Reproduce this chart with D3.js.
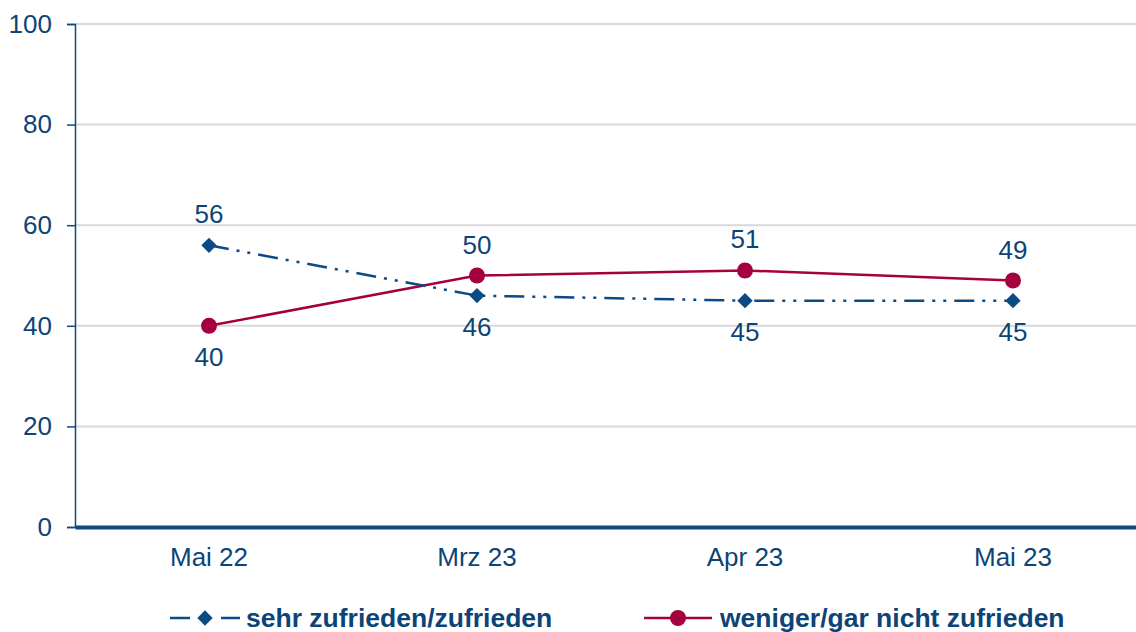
<!DOCTYPE html>
<html><head><meta charset="utf-8">
<script src="https://cdn.jsdelivr.net/npm/d3@7"></script>
<style>body{margin:0;background:#fff}svg{display:block}text{font-family:"Liberation Sans",Arial,sans-serif}</style>
</head><body><svg id="c" width="1136" height="632"></svg>
<script>
const categories = ["Mai 22","Mrz 23","Apr 23","Mai 23"];
const seriesNames = ["sehr zufrieden/zufrieden","weniger/gar nicht zufrieden"];
const zufrieden = [56,46,45,45];
const nichtZufrieden = [40,50,51,49];
const yTicks = [0,20,40,60,80,100];

const blue = "#0a4a85", red = "#a5003f", txt = "#0d4477";
const FS = 26;
const svg = d3.select("#c");
const x = d3.scaleBand().domain(categories).range([75,1147]);
const y = d3.scaleLinear().domain([0,100]).range([527,24]);
const cx = d => x(d)+x.bandwidth()/2;

// grid
svg.append("g").selectAll("line").data(yTicks.filter(t=>t>0)).join("line")
  .attr("x1",75).attr("x2",1136).attr("y1",d=>y(d)).attr("y2",d=>y(d))
  .attr("stroke","#d9d9d9").attr("stroke-width",2);

// y axis
const ya = svg.append("g").attr("transform","translate(75,0)")
  .call(d3.axisLeft(y).tickValues(yTicks).tickSize(8).tickPadding(15));
ya.select(".domain").attr("stroke",blue).attr("stroke-width",1.5);
ya.selectAll(".tick line").attr("stroke",blue).attr("stroke-width",1.5);
ya.selectAll("text").attr("fill",txt).attr("font-size",FS).style("font-family","Liberation Sans, Arial, sans-serif");

// x axis
const xa = svg.append("g").attr("transform","translate(0,527)")
  .call(d3.axisBottom(x).tickSize(0).tickPadding(21));
xa.select(".domain").attr("stroke",blue).attr("stroke-width",4);
xa.selectAll("text").attr("fill",txt).attr("font-size",FS).style("font-family","Liberation Sans, Arial, sans-serif");

const line = d3.line().x((d,i)=>cx(categories[i])).y(d=>y(d));

// red series
svg.append("path").datum(nichtZufrieden).attr("d",line).attr("fill","none")
  .attr("stroke",red).attr("stroke-width",2.5);
svg.append("g").selectAll("circle").data(nichtZufrieden).join("circle")
  .attr("cx",(d,i)=>cx(categories[i])).attr("cy",d=>y(d)).attr("r",8).attr("fill",red);

// blue series
svg.append("path").datum(zufrieden).attr("d",line).attr("fill","none")
  .attr("stroke",blue).attr("stroke-width",2.5).attr("stroke-dasharray","20,8,3,8,3,8");
const diamond = d3.symbol().type(d3.symbolDiamond2).size(150);
svg.append("g").selectAll("path").data(zufrieden).join("path")
  .attr("d",diamond).attr("transform",(d,i)=>`translate(${cx(categories[i])},${y(d)})`).attr("fill",blue);

// labels
const lab = (data, above) => svg.append("g").selectAll("text").data(data).join("text")
  .attr("x",(d,i)=>cx(categories[i])).attr("y",(d,i)=>y(d)+(above(d,i)?-22:40))
  .attr("text-anchor","middle").attr("font-size",FS).attr("fill",txt).text(d=>d);
lab(zufrieden,(d,i)=>d>=nichtZufrieden[i]);
lab(nichtZufrieden,(d,i)=>d>zufrieden[i]);

// legend
const lg = svg.append("g");
lg.append("line").attr("x1",170).attr("x2",190).attr("y1",618).attr("y2",618).attr("stroke",blue).attr("stroke-width",2.5);
lg.append("line").attr("x1",221).attr("x2",240).attr("y1",618).attr("y2",618).attr("stroke",blue).attr("stroke-width",2.5);
lg.append("path").attr("d",diamond).attr("transform","translate(205,618)").attr("fill",blue);
lg.append("text").attr("x",246).attr("y",627).attr("font-size",26.5).attr("font-weight","bold").attr("fill",txt).text(seriesNames[0]);
lg.append("line").attr("x1",644).attr("x2",712).attr("y1",618).attr("y2",618).attr("stroke",red).attr("stroke-width",2.5);
lg.append("circle").attr("cx",678).attr("cy",618).attr("r",8).attr("fill",red);
lg.append("text").attr("x",720).attr("y",627).attr("font-size",26.5).attr("font-weight","bold").attr("fill",txt).text(seriesNames[1]);
</script></body></html>
